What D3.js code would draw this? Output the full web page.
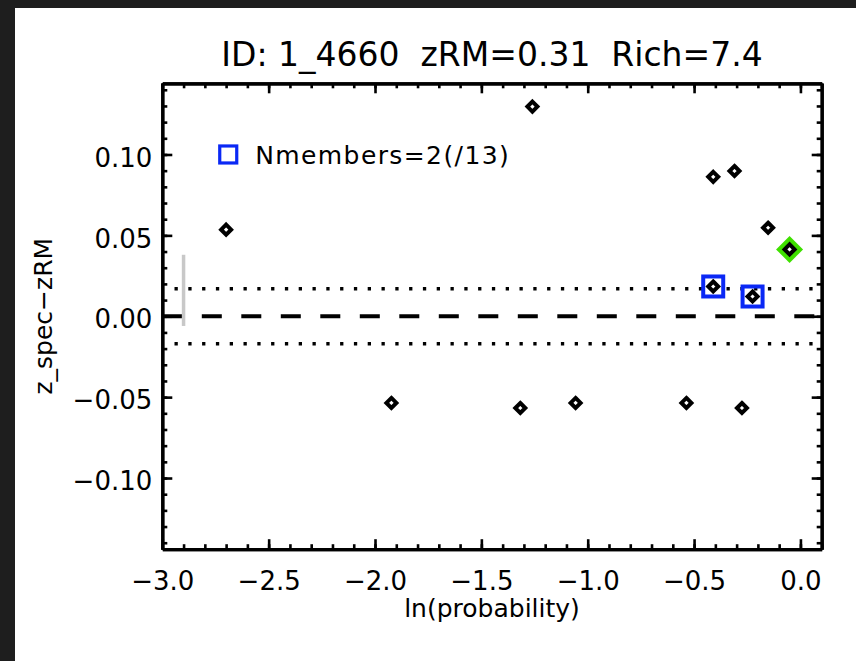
<!DOCTYPE html>
<html>
<head>
  <meta charset='utf-8'>
  <title>z_spec - zRM</title>
  <script src="https://d3js.org/d3.v7.min.js"></script>
  <style>
    body { margin: 0; background: #1e1e1e; }
    text { font-family: 'DejaVu Sans', sans-serif; fill: #000; white-space: pre; }
  </style>
</head>
<body>
  <svg id='chart' width=856 height=661></svg>
<script>

  // ---- data ----
  let lnProb = [-2.70, -1.26, -0.41, -0.31, -0.152, -0.051, -0.41, -0.225, -1.923, -1.317, -1.057, -0.536, -0.275];
  let dz     = [0.0535, 0.1296, 0.0862, 0.0898, 0.0547, 0.0413, 0.0184, 0.0122, -0.0536, -0.0567, -0.0536, -0.0536, -0.0567];
  let memberIdx = [6, 7];        // boxed in blue
  let bcgIdx = 5;                // green diamond
  let sigmaLines = [-0.017, 0.017];
  let errBar = {x: -2.9, lo: -0.006, hi: 0.038};
  let xTicks = [-3.0, -2.5, -2.0, -1.5, -1.0, -0.5, 0.0];
  let yTicks = [-0.10, -0.05, 0.00, 0.05, 0.10];
  let titleText = 'ID: 1_4660  zRM=0.31  Rich=7.4';
  let legendText = 'Nmembers=2(/13)';
  let legendPos = {x: -2.69, y: 0.10};

  let points = lnProb.map((d, i) => ({x: d, y: dz[i], i: i}));

  let svg = d3.select('#chart');
  let W = 856, H = 661;
  let box = {l: 162.3, r: 821.7, t: 83.3, b: 549.2};

  // frame: dark border, white panel
  svg.append('rect').attr('width', W).attr('height', H).attr('fill', '#1e1e1e');
  svg.append('rect').attr('x', 15).attr('y', 8).attr('width', W - 15).attr('height', H - 8).attr('fill', '#fff');

  let x = d3.scaleLinear().domain([-3, 0.1]).range([box.l, box.r]);
  let y = d3.scaleLinear().domain([-0.144, 0.144]).range([box.b, box.t]);

  let minorX = d3.range(-30, 2).map(d => d / 10);
  let minorY = d3.range(-14, 15).map(d => d / 100);

  function styleAxis(g) {
    g.selectAll('line').attr('stroke', '#000').attr('stroke-width', 2.6);
    g.select('.domain').attr('stroke', '#000').attr('stroke-width', 3.2);
    g.selectAll('text').style('font-size', '26px').attr('fill', '#000');
  }

  // minor ticks on all four sides
  svg.append('g').attr('transform', `translate(0,${box.b})`)
    .call(d3.axisBottom(x).tickValues(minorX).tickSize(-5).tickSizeOuter(0).tickFormat(''))
    .call(styleAxis);
  svg.append('g').attr('transform', `translate(0,${box.t})`)
    .call(d3.axisTop(x).tickValues(minorX).tickSize(-5).tickSizeOuter(0).tickFormat(''))
    .call(styleAxis);
  svg.append('g').attr('transform', `translate(${box.l},0)`)
    .call(d3.axisLeft(y).tickValues(minorY).tickSize(-5).tickSizeOuter(0).tickFormat(''))
    .call(styleAxis);
  svg.append('g').attr('transform', `translate(${box.r},0)`)
    .call(d3.axisRight(y).tickValues(minorY).tickSize(-5).tickSizeOuter(0).tickFormat(''))
    .call(styleAxis);

  // major ticks + labels
  svg.append('g').attr('transform', `translate(0,${box.b})`)
    .call(d3.axisBottom(x).tickValues(xTicks).tickSize(-10).tickSizeOuter(0)
      .tickFormat(d3.format('.1f')).tickPadding(22))
    .call(styleAxis)
    .call(g => g.selectAll('text').attr('dy', '0.71em'));
  svg.append('g').attr('transform', `translate(0,${box.t})`)
    .call(d3.axisTop(x).tickValues(xTicks).tickSize(-10).tickSizeOuter(0).tickFormat(''))
    .call(styleAxis);
  svg.append('g').attr('transform', `translate(${box.l},0)`)
    .call(d3.axisLeft(y).tickValues(yTicks).tickSize(-10).tickSizeOuter(0)
      .tickFormat(d3.format('.2f')).tickPadding(10))
    .call(styleAxis)
    .call(g => g.selectAll('text').attr('dy', '0.45em'));
  svg.append('g').attr('transform', `translate(${box.r},0)`)
    .call(d3.axisRight(y).tickValues(yTicks).tickSize(-10).tickSizeOuter(0).tickFormat(''))
    .call(styleAxis);

  // reference lines
  svg.append('line')
    .attr('x1', x(-3)).attr('x2', x(0.1)).attr('y1', y(0)).attr('y2', y(0))
    .attr('stroke', '#000').attr('stroke-width', 4).attr('stroke-dasharray', '20,19.5');
  svg.selectAll('line.sig').data(sigmaLines).enter().append('line')
    .attr('class', 'sig')
    .attr('x1', x(-3)).attr('x2', x(0.1)).attr('y1', d => y(d)).attr('y2', d => y(d))
    .attr('stroke', '#000').attr('stroke-width', 3.3).attr('stroke-dasharray', '3.3,10.5')
    .attr('stroke-dashoffset', 1.6);

  // grey error bar
  svg.append('line')
    .attr('x1', x(errBar.x)).attr('x2', x(errBar.x)).attr('y1', y(errBar.lo)).attr('y2', y(errBar.hi))
    .attr('stroke', '#c8c8c8').attr('stroke-width', 3.5);

  // green diamond behind the BCG point
  let diamond = r => `M0,${-r}L${r},0L0,${r}L${-r},0Z`;
  svg.append('path')
    .attr('d', diamond(13.5))
    .attr('transform', `translate(${x(points[bcgIdx].x)},${y(points[bcgIdx].y)})`)
    .attr('fill', '#3fe000');

  // black diamonds
  svg.selectAll('path.pt').data(points).enter().append('path')
    .attr('class', 'pt')
    .attr('d', diamond(5))
    .attr('transform', d => `translate(${x(d.x)},${y(d.y)})`)
    .attr('fill', '#fff').attr('stroke', '#000').attr('stroke-width', 4);

  // blue boxes round members
  svg.selectAll('rect.mem').data(memberIdx.map(i => points[i])).enter().append('rect')
    .attr('class', 'mem')
    .attr('x', d => x(d.x) - 10).attr('y', d => y(d.y) - 10)
    .attr('width', 20).attr('height', 20)
    .attr('fill', 'none').attr('stroke', '#0a28f5').attr('stroke-width', 4);

  // legend
  svg.append('rect')
    .attr('x', x(legendPos.x) - 8.5).attr('y', y(legendPos.y) - 8.5)
    .attr('width', 17).attr('height', 17)
    .attr('fill', 'none').attr('stroke', '#0a28f5').attr('stroke-width', 3.2);
  svg.append('text')
    .attr('x', x(legendPos.x) + 27).attr('y', y(legendPos.y) + 10)
    .style('font-size', '25px').style('letter-spacing', '1.4px')
    .text(legendText);

  // titles
  svg.append('text')
    .attr('x', (box.l + box.r) / 2).attr('y', 66)
    .attr('text-anchor', 'middle').style('font-size', '33px')
    .text(titleText);
  svg.append('text')
    .attr('x', (box.l + box.r) / 2).attr('y', 617)
    .attr('text-anchor', 'middle').style('font-size', '25px')
    .text('ln(probability)');
  svg.append('text')
    .attr('transform', `translate(52,${(box.t + box.b) / 2}) rotate(-90)`)
    .attr('text-anchor', 'middle').style('font-size', '25px')
    .text('z_spec\u2212zRM');

</script>
</body>
</html>
